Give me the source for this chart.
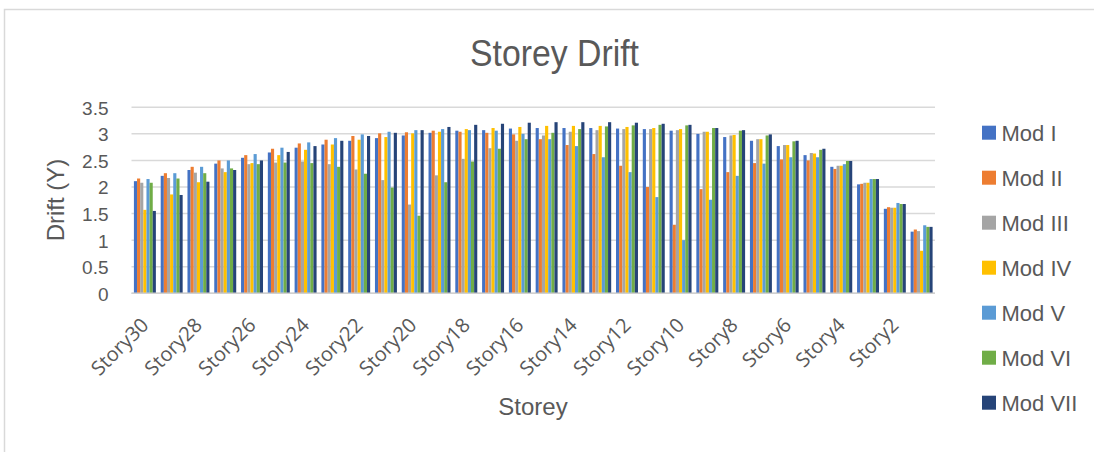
<!DOCTYPE html>
<html>
<head>
<meta charset="utf-8">
<script src="https://cdn.jsdelivr.net/npm/d3@7"></script>
<style>
  html, body { margin: 0; padding: 0; background: #fff; }
  svg { display: block; }
</style>
</head>
<body>
<div class="container"></div>
<script>
// storeys as they appear left to right
const stories = d3.range(30, 0, -1).map((n) => `Story${n}`);
const series = ['Mod I', 'Mod II', 'Mod III', 'Mod IV', 'Mod V', 'Mod VI', 'Mod VII'];
const seriesColors = ['#4472c4', '#ed7d31', '#a5a5a5', '#ffc000', '#5b9bd5', '#70ad47', '#264478'];
const yTicks = [0, 0.5, 1, 1.5, 2, 2.5, 3, 3.5];

// values, Story30 .. Story1
const modI = [2.11, 2.21, 2.32, 2.44, 2.55, 2.65, 2.74, 2.80, 2.87, 2.92,
  2.97, 3.02, 3.06, 3.07, 3.10, 3.11, 3.11, 3.11, 3.10, 3.09,
  3.06, 3.00, 2.94, 2.87, 2.77, 2.60, 2.38, 2.05, 1.59, 1.16];
const modII = [2.16, 2.26, 2.38, 2.50, 2.60, 2.72, 2.82, 2.89, 2.96, 3.01,
  3.03, 3.06, 3.04, 3.02, 2.99, 2.90, 2.79, 2.62, 2.40, 2.00,
  1.29, 1.96, 2.28, 2.45, 2.52, 2.50, 2.34, 2.06, 1.62, 1.20];
const modIII = [2.08, 2.17, 2.27, 2.35, 2.43, 2.46, 2.48, 2.43, 2.33, 2.13,
  1.67, 2.22, 2.53, 2.73, 2.87, 2.97, 3.04, 3.07, 3.09, 3.09,
  3.07, 3.04, 2.97, 2.90, 2.79, 2.64, 2.40, 2.08, 1.61, 1.17];
const modIV = [1.57, 1.86, 2.09, 2.28, 2.45, 2.60, 2.70, 2.80, 2.89, 2.94,
  3.01, 3.04, 3.09, 3.11, 3.13, 3.15, 3.15, 3.15, 3.13, 3.11,
  3.09, 3.04, 2.98, 2.90, 2.79, 2.63, 2.40, 2.08, 1.61, 0.80];
const modV = [2.15, 2.26, 2.38, 2.50, 2.62, 2.74, 2.84, 2.92, 2.99, 3.04,
  3.07, 3.09, 3.07, 3.06, 3.00, 2.90, 2.77, 2.56, 2.28, 1.81,
  1.00, 1.76, 2.21, 2.44, 2.56, 2.56, 2.43, 2.15, 1.70, 1.28];
const modVI = [2.08, 2.16, 2.26, 2.35, 2.43, 2.46, 2.45, 2.38, 2.25, 1.99,
  1.46, 2.09, 2.48, 2.72, 2.90, 3.02, 3.09, 3.14, 3.16, 3.17,
  3.16, 3.11, 3.06, 2.97, 2.86, 2.70, 2.49, 2.15, 1.68, 1.25];
const modVII = [1.55, 1.85, 2.10, 2.32, 2.50, 2.66, 2.77, 2.87, 2.96, 3.02,
  3.07, 3.13, 3.17, 3.19, 3.21, 3.22, 3.22, 3.22, 3.21, 3.19,
  3.17, 3.11, 3.07, 2.99, 2.87, 2.72, 2.49, 2.15, 1.68, 1.25];
const values = [modI, modII, modIII, modIV, modV, modVI, modVII];

const width = 1094;
const height = 452;
const margin = { top: 107.3, right: 159, bottom: 158.7, left: 131.5 };
const textColor = '#595959';

const svg = d3
  .select('.container')
  .append('svg')
  .attr('width', width)
  .attr('height', height);

// chart frame
svg
  .append('rect')
  .attr('x', 4.5)
  .attr('y', 9.5)
  .attr('width', width + 10)
  .attr('height', height + 10)
  .attr('fill', 'none')
  .attr('stroke', '#d9d9d9')
  .attr('stroke-width', 1.5);

svg
  .append('text')
  .attr('x', 554.5)
  .attr('y', 65.7)
  .attr('text-anchor', 'middle')
  .attr('fill', textColor)
  .style('font-family', 'Liberation Sans, Arial, sans-serif')
  .style('font-size', '37px')
  .attr('textLength', 169)
  .attr('lengthAdjust', 'spacingAndGlyphs')
  .text('Storey Drift');

const xScale = d3
  .scaleBand()
  .domain(stories)
  .range([margin.left, width - margin.right])
  .paddingInner(0.18)
  .paddingOuter(0.09);

const xInner = d3
  .scaleBand()
  .domain(d3.range(series.length))
  .range([0, xScale.bandwidth()]);

const yScale = d3
  .scaleLinear()
  .domain([0, 3.5])
  .range([height - margin.bottom, margin.top]);

// gridlines
svg
  .append('g')
  .attr('id', 'grid')
  .selectAll('line')
  .data(yTicks)
  .enter()
  .append('line')
  .attr('x1', margin.left)
  .attr('x2', width - margin.right)
  .attr('y1', (d) => yScale(d))
  .attr('y2', (d) => yScale(d))
  .attr('stroke', '#d9d9d9')
  .attr('stroke-width', 1.5);

const yAxis = d3
  .axisLeft(yScale)
  .tickValues(yTicks)
  .tickFormat(d3.format('~g'))
  .tickSize(0)
  .tickPadding(23);

const yAxisG = svg
  .append('g')
  .attr('id', 'y-axis')
  .attr('transform', `translate(${margin.left},0)`)
  .call(yAxis);
yAxisG.select('.domain').remove();
yAxisG
  .selectAll('text')
  .attr('fill', textColor)
  .attr('dy', '0.36em')
  .style('font-family', 'Liberation Sans, Arial, sans-serif')
  .style('font-size', '19px');

// bars
svg
  .append('g')
  .attr('id', 'bars')
  .selectAll('g')
  .data(series)
  .enter()
  .append('g')
  .attr('fill', (d, i) => seriesColors[i])
  .selectAll('rect')
  .data((d, i) => values[i].map((v, j) => ({ story: stories[j], value: v, s: i })))
  .enter()
  .append('rect')
  .attr('x', (d) => xScale(d.story) + xInner(d.s))
  .attr('y', (d) => yScale(d.value))
  .attr('width', xInner.bandwidth())
  .attr('height', (d) => yScale(0) - yScale(d.value));

// x axis line
svg
  .append('line')
  .attr('x1', margin.left)
  .attr('x2', width - margin.right)
  .attr('y1', yScale(0))
  .attr('y2', yScale(0))
  .attr('stroke', '#d0d0d0')
  .attr('stroke-width', 1.5);

const xAxis = d3
  .axisBottom(xScale)
  .tickValues(stories.filter((d, i) => i % 2 === 0))
  .tickSize(0);

const xAxisG = svg
  .append('g')
  .attr('id', 'x-axis')
  .attr('transform', `translate(0, ${yScale(0)})`)
  .call(xAxis);
xAxisG.select('.domain').remove();
xAxisG
  .selectAll('text')
  .attr('fill', textColor)
  .attr('text-anchor', 'end')
  .attr('transform', 'translate(5, 33) rotate(-45)')
  .attr('dy', 0)
  .attr('y', 0)
  .style('font-family', 'Open Sans, sans-serif')
  .style('font-size', '20px');

svg
  .append('text')
  .attr('x', 533)
  .attr('y', 415)
  .attr('text-anchor', 'middle')
  .attr('fill', textColor)
  .style('font-family', 'Liberation Sans, Arial, sans-serif')
  .style('font-size', '24px')
  .text('Storey');

svg
  .append('text')
  .attr('transform', 'translate(64, 200) rotate(-90)')
  .attr('text-anchor', 'middle')
  .attr('fill', textColor)
  .style('font-family', 'Liberation Sans, Arial, sans-serif')
  .style('font-size', '24px')
  .text('Drift (Y)');

// legend
const legend = svg
  .append('g')
  .attr('id', 'legend')
  .selectAll('g')
  .data(series)
  .enter()
  .append('g')
  .attr('transform', (d, i) => `translate(982, ${132.7 + i * 45})`);

legend
  .append('rect')
  .attr('x', 0)
  .attr('y', -7)
  .attr('width', 14)
  .attr('height', 14)
  .attr('fill', (d, i) => seriesColors[i]);

legend
  .append('text')
  .attr('x', 19.5)
  .attr('y', 0)
  .attr('dy', '0.36em')
  .attr('fill', textColor)
  .style('font-family', 'Liberation Sans, Arial, sans-serif')
  .style('font-size', '22px')
  .text((d) => d);
</script>
</body>
</html>
